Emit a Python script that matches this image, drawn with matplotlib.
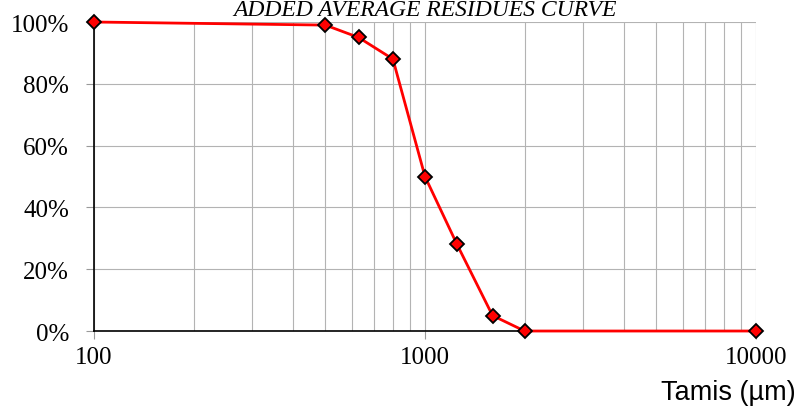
import matplotlib
matplotlib.use('Agg')
import matplotlib.pyplot as plt
from matplotlib.ticker import FixedLocator, FuncFormatter, LogLocator, NullFormatter

# Données
tamis = [100, 500, 630, 800, 1000, 1250, 1600, 2000, 10000]
residus = [100, 99, 95, 88, 50, 28, 5, 0, 0]
y_ticks = [0, 20, 40, 60, 80, 100]
x_ticks = [100, 1000, 10000]

fig = plt.figure(figsize=(7.96, 4.10), dpi=100)
ax = fig.add_axes([0.1181, 0.1902, 0.8316, 0.7537])

ax.plot(tamis, residus, color='red', linewidth=2, marker='D', markersize=7.5,
        markerfacecolor='red', markeredgecolor='black', markeredgewidth=1.3,
        zorder=5, clip_on=False)

ax.set_xscale('log')
ax.set_xlim(100, 10000)
ax.set_ylim(0, 100)

ax.xaxis.set_major_locator(FixedLocator(x_ticks))
ax.xaxis.set_major_formatter(FuncFormatter(lambda v, p: '%d' % v))
ax.xaxis.set_minor_locator(LogLocator(base=10, subs=range(2, 10)))
ax.xaxis.set_minor_formatter(NullFormatter())
ax.set_yticks(y_ticks)
ax.yaxis.set_major_formatter(FuncFormatter(lambda v, p: '%d%%' % v))

ax.grid(True, which='both', color='#b3b3b3', linewidth=0.8)
ax.set_axisbelow(True)

for s in ['top', 'right']:
    ax.spines[s].set_visible(False)
ax.spines['left'].set_linewidth(1.2)
ax.spines['bottom'].set_linewidth(1.2)

ax.tick_params(axis='y', which='major', color='#999999', length=6,
               labelsize=18, pad=12)
ax.tick_params(axis='x', which='major', color='#999999', length=6,
               labelsize=18, pad=5)
ax.tick_params(axis='x', which='minor', length=0)
for lab in ax.get_xticklabels() + ax.get_yticklabels():
    lab.set_fontfamily('Liberation Serif')

fig.text(0.534, 0.999, 'ADDED AVERAGE RESIDUES CURVE', ha='center', va='top',
         fontsize=17, style='italic', family='Liberation Serif')
fig.text(0.999, 0.01, 'Tamis (µm)', ha='right', va='bottom',
         fontsize=19.5, family='Liberation Sans')

fig.savefig('out.png', dpi=100)
